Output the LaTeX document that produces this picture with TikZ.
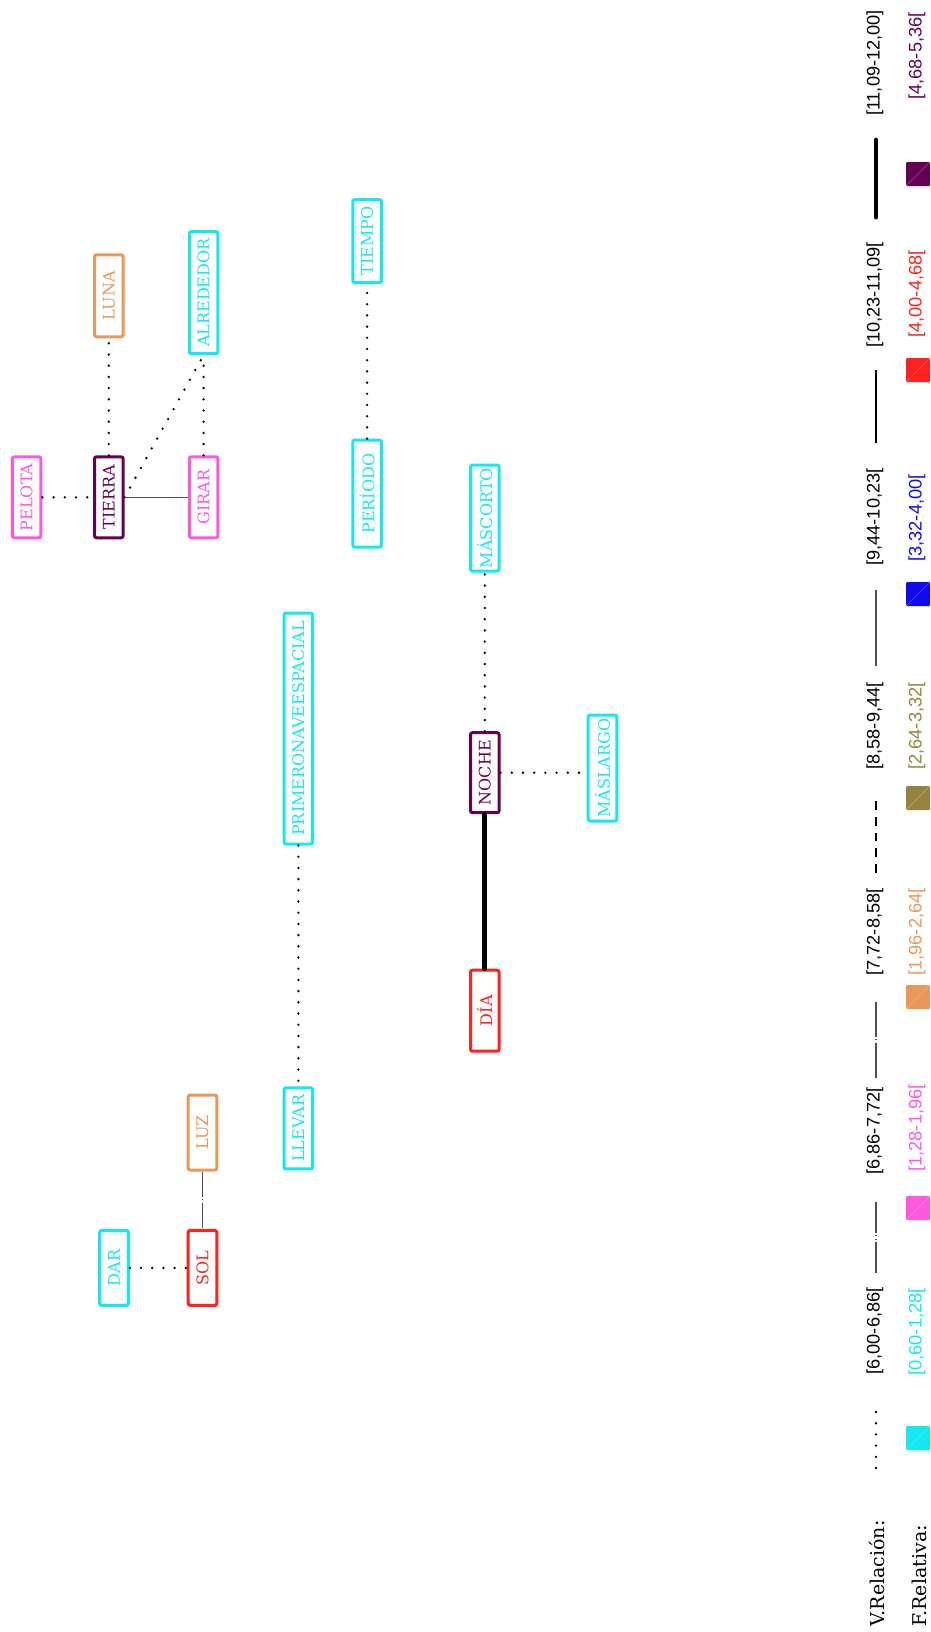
\documentclass[tikz,border=0pt]{standalone}
\usepackage{fontspec}
\setmainfont{DejaVu Serif}
\newfontfamily\rangefont{Liberation Sans}
\definecolor{fcyan}{RGB}{20,232,240}
\definecolor{fpink}{RGB}{255,88,222}
\definecolor{forange}{RGB}{234,152,90}
\definecolor{folive}{RGB}{150,132,62}
\definecolor{fblue}{RGB}{18,10,238}
\definecolor{fred}{RGB}{255,32,32}
\definecolor{fpurple}{RGB}{102,0,82}
\definecolor{linegray}{RGB}{80,80,80}
\tikzset{
  concept/.style={draw=#1, text=#1, fill=white, line width=1.5pt, rounded corners=1pt,
    rotate=90, inner sep=0pt, minimum height=14.3pt, font=\fontsize{8}{9}\selectfont},
  legendtxt/.style={rotate=90, inner sep=0pt, anchor=west, font=\fontsize{9.5}{11}\selectfont},
  rangetxt/.style={rotate=90, inner sep=0pt, font=\rangefont\fontsize{9.1}{10}\selectfont},
  vdot/.style={line width=1.3pt, line cap=round, dash pattern=on 0pt off 5.6pt},
  vdashdotdot/.style={draw=linegray, line width=0.6pt, dash pattern=on 15.5pt off 1.25pt on 0.5pt off 1.25pt on 0.5pt off 1.25pt},
  vdashdot/.style={draw=linegray, line width=0.6pt, dash pattern=on #1 off 1.25pt on 0.5pt off 1.25pt},
  vdashdot/.default=12.5pt,
  vdashdotkey/.style={vdashdot=17.75pt},
  vdashed/.style={line width=0.6pt, dash pattern=on 4.4pt off 3.5pt},
  vthin/.style={draw=linegray, line width=0.8pt},
  vmed/.style={line width=1.4pt},
  vthick/.style={line width=2.4pt, line cap=round},
}
\begin{document}
\begin{tikzpicture}[x=0.5pt, y=-0.5pt]
  \useasboundingbox (0,0) rectangle (931,1632);

  % concepts
  \node[concept=fpink, minimum width=40.5pt] (pelota) at (26.6,497.3) {PELOTA};
  \node[concept=fpurple, minimum width=40.5pt] (tierra) at (108.8,497.3) {TIERRA};
  \node[concept=fpink, minimum width=40.5pt] (girar) at (203.6,497.3) {GIRAR};
  \node[concept=forange, minimum width=41pt] (luna) at (108.8,295.8) {LUNA};
  \node[concept=fcyan, minimum width=61pt] (alrededor) at (203.6,292.6) {ALREDEDOR};
  \node[concept=fcyan, minimum width=41.5pt] (tiempo) at (367.1,241.1) {TIEMPO};
  \node[concept=fcyan, minimum width=53.5pt] (periodo) at (367.1,493.6) {PERÍODO};
  \node[concept=fcyan, minimum width=53pt] (mascorto) at (484.8,518.1) {MÁSCORTO};
  \node[concept=fpurple, minimum width=40pt] (noche) at (484.8,772.7) {NOCHE};
  \node[concept=fred, minimum width=40.5pt] (dia) at (484.8,1010.7) {DÍA};
  \node[concept=fcyan, minimum width=53pt] (maslargo) at (602.5,768) {MÁSLARGO};
  \node[concept=fcyan, minimum width=115.5pt] (primero) at (298.4,728.5) {PRIMERONAVEESPACIAL};
  \node[concept=fcyan, minimum width=40.5pt] (llevar) at (298.4,1128.4) {LLEVAR};
  \node[concept=forange, minimum width=37.5pt] (luz) at (202.5,1132.5) {LUZ};
  \node[concept=fred, minimum width=37.5pt] (sol) at (202.5,1267.9) {SOL};
  \node[concept=fcyan, minimum width=37.5pt] (dar) at (114,1267.9) {DAR};

  % relations
  \draw[vdot] (pelota) -- (tierra);
  \draw[vthin] (tierra) -- (girar);
  \draw[vdot] (tierra) -- (luna);
  \draw[vdot] (tierra.south) -- (alrededor.west);
  \draw[vdot] (girar) -- (alrededor);
  \draw[vdot] (periodo) -- (tiempo);
  \draw[vdot] (noche) -- (mascorto);
  \draw[vdot] (noche) -- (noche -| maslargo.north);
  \draw[vthick] (noche) -- (dia);
  \draw[vdot] (primero) -- (llevar);
  \draw[vdashdot] (luz) -- (sol);
  \draw[vdot] (dar) -- (sol);

  % legend
  \node[legendtxt] (vrel) at (877,1627) {V.Relación:};
  \node[legendtxt] (frel) at (919,1627) {F.Relativa:};
  \foreach \ya/\yb/\sty in {1406/1468/vdot, 1200/1273/vdashdotdot, 1002/1078/vdashdotkey,
      797/873/vdashed, 590/666/vthin, 370/443/vmed, 140/217/vthick} {
    \draw[style=\sty] (876,\yb) -- (876,\ya);
  }
  \foreach \yc/\txt in {1331/{[6,00-6,86[}, 1131/{[6,86-7,72[}, 932/{[7,72-8,58[}, 726/{[8,58-9,44[},
      517/{[9,44-10,23[}, 295/{[10,23-11,09[}, 63/{[11,09-12,00]}} {
    \node[rangetxt] at (875,\yc) {\txt};
  }
  \foreach \yc/\col in {1438/fcyan, 1208/fpink, 997/forange, 798/folive, 594/fblue, 370/fred, 174/fpurple} {
    \fill[\col, rounded corners=0.5pt] (906,\yc+12) rectangle (930,\yc-12);
    \draw[white, opacity=0.3, line width=0.3pt] (906,\yc+12) -- (930,\yc-12);
  }
  \foreach \yc/\txt/\col in {1332/{[0,60-1,28[}/fcyan, 1128/{[1,28-1,96[}/fpink, 932/{[1,96-2,64[}/forange,
      726/{[2,64-3,32[}/folive, 518/{[3,32-4,00[}/fblue, 294/{[4,00-4,68[}/fred, 56/{[4,68-5,36[}/fpurple} {
    \node[rangetxt, text=\col] at (917,\yc) {\txt};
  }
\end{tikzpicture}
\end{document}
